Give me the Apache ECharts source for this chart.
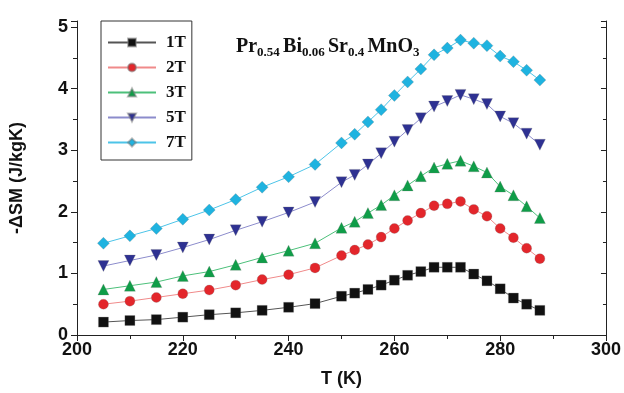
<!DOCTYPE html>
<html>
<head>
<meta charset="utf-8">
<script src="https://cdn.jsdelivr.net/npm/echarts@6/dist/echarts.min.js"></script>
<style>
  html, body { margin: 0; padding: 0; background: #fff; }
  #chart { width: 624px; height: 393px; }
</style>
</head>
<body>
<div id="chart"></div>
<script>
const temps = [205, 210, 215, 220, 225, 230, 235, 240, 245, 250, 252.5, 255, 257.5, 260,
  262.5, 265, 267.5, 270, 272.5, 275, 277.5, 280, 282.5, 285, 287.5];
const ds1T = [0.21, 0.235, 0.25, 0.29, 0.33, 0.36, 0.40, 0.45, 0.51, 0.63, 0.68, 0.74, 0.81,
  0.89, 0.97, 1.03, 1.10, 1.10, 1.10, 0.99, 0.88, 0.75, 0.60, 0.50, 0.40];
const ds2T = [0.50, 0.55, 0.61, 0.67, 0.73, 0.81, 0.90, 0.98, 1.09, 1.29, 1.38, 1.47, 1.59,
  1.73, 1.86, 1.98, 2.10, 2.13, 2.17, 2.04, 1.93, 1.73, 1.58, 1.41, 1.24];
const ds3T = [0.74, 0.80, 0.86, 0.96, 1.03, 1.14, 1.26, 1.37, 1.49, 1.74, 1.84, 1.98, 2.11,
  2.27, 2.43, 2.58, 2.72, 2.78, 2.83, 2.74, 2.64, 2.41, 2.27, 2.09, 1.90];
const ds5T = [1.12, 1.21, 1.30, 1.42, 1.55, 1.70, 1.84, 1.99, 2.16, 2.48, 2.60, 2.77, 2.95,
  3.14, 3.33, 3.52, 3.71, 3.80, 3.90, 3.83, 3.75, 3.55, 3.44, 3.27, 3.09];
const ds7T = [1.49, 1.61, 1.73, 1.88, 2.03, 2.20, 2.40, 2.57, 2.77, 3.12, 3.26, 3.46, 3.66,
  3.89, 4.11, 4.32, 4.55, 4.66, 4.79, 4.74, 4.70, 4.53, 4.44, 4.30, 4.14];
const fieldNames = ["1T", "2T", "3T", "5T", "7T"];

const sans = "'Liberation Sans', Arial, sans-serif";
const serif = "'Liberation Serif', 'Times New Roman', serif";

function makeSeries(name, values, symbol, color, lineColor, size, rotate) {
  return {
    name,
    type: "line",
    data: temps.map((t, i) => [t, values[i]]),
    symbol,
    symbolSize: size,
    symbolRotate: rotate || 0,
    showAllSymbol: true,
    itemStyle: { color, borderColor: "rgba(120,120,120,0.5)", borderWidth: 0.5 },
    lineStyle: { color: lineColor, width: 1 },
    emphasis: { disabled: true },
  };
}

const chart = echarts.init(document.getElementById("chart"), null, { renderer: "canvas" });
chart.setOption({
  animation: false,
  grid: { left: 73, right: 18, top: 21, bottom: 46 },
  title: {
    left: 231,
    top: 30,
    text: "{b|Pr}{s|0.54 }{b|Bi}{s|0.06 }{b|Sr}{s|0.4 }{b|MnO}{s|3}",
    textStyle: {
      rich: {
        b: { fontFamily: serif, fontWeight: "bold", fontSize: 20, color: "#111", lineHeight: 24 },
        s: { fontFamily: serif, fontWeight: "bold", fontSize: 13, color: "#111", lineHeight: 13, verticalAlign: "bottom" },
      },
    },
  },
  legend: {
    orient: "vertical",
    left: 101,
    top: 21,
    data: fieldNames,
    itemWidth: 48,
    itemHeight: 10,
    itemGap: 8,
    padding: [13, 6, 9, 6],
    borderColor: "#333",
    borderWidth: 1,
    textStyle: { fontFamily: serif, fontWeight: "bold", fontSize: 17, color: "#111", lineHeight: 17, padding: [0, 0, 0, 5] },
  },
  xAxis: [
    {
      type: "value",
      min: 200,
      max: 300,
      interval: 20,
      name: "T (K)",
      nameLocation: "middle",
      nameGap: 35,
      nameTextStyle: { fontFamily: sans, fontWeight: "bold", fontSize: 18, color: "#111" },
      axisLine: { lineStyle: { color: "#222", width: 1 } },
      axisTick: { inside: false, length: 6, lineStyle: { color: "#222" } },
      minorTick: { show: true, splitNumber: 2, length: 4, lineStyle: { color: "#222" } },
      axisLabel: { fontFamily: sans, fontWeight: "bold", fontSize: 18, color: "#111", margin: 6 },
      splitLine: { show: false },
    },
    {
      type: "value",
      position: "top",
      min: 200,
      max: 300,
      interval: 20,
      axisLine: { show: true, lineStyle: { color: "#222", width: 1 } },
      axisTick: { inside: true, length: 5, lineStyle: { color: "#222" } },
      minorTick: { show: true, splitNumber: 2, length: 3, lineStyle: { color: "#222" } },
      axisLabel: { show: false },
      splitLine: { show: false },
    },
  ],
  yAxis: [
    {
      type: "value",
      min: 0,
      max: 5.1,
      interval: 1,
      name: "-\u0394SM (J/kgK)",
      nameLocation: "middle",
      nameGap: 51,
      nameTextStyle: { fontFamily: sans, fontWeight: "bold", fontSize: 18, color: "#111" },
      axisLine: { show: true, lineStyle: { color: "#222", width: 1 } },
      axisTick: { inside: false, length: 6, lineStyle: { color: "#222" } },
      minorTick: { show: true, splitNumber: 2, length: 4, lineStyle: { color: "#222" } },
      axisLabel: {
        fontFamily: sans, fontWeight: "bold", fontSize: 18, color: "#111", margin: 9,
        formatter: (v) => (Number.isInteger(v) ? String(v) : ""),
      },
      splitLine: { show: false },
    },
    {
      type: "value",
      position: "right",
      min: 0,
      max: 5.1,
      interval: 1,
      axisLine: { show: true, lineStyle: { color: "#222", width: 1 } },
      axisTick: { inside: true, length: 5, lineStyle: { color: "#222" } },
      minorTick: { show: true, splitNumber: 2, length: 3, lineStyle: { color: "#222" } },
      axisLabel: { show: false },
      splitLine: { show: false },
    },
  ],
  series: [
    makeSeries("1T", ds1T, "rect", "#111", "#555", 10),
    makeSeries("2T", ds2T, "circle", "#e3262b", "#f08a8a", 10),
    makeSeries("3T", ds3T, "triangle", "#0f9d48", "#4cc07a", 11),
    makeSeries("5T", ds5T, "triangle", "#2e3192", "#8c8ccc", 11, 180),
    makeSeries("7T", ds7T, "diamond", "#1fb3e0", "#4cc4e8", 12),
  ],
});
</script>
</body>
</html>
